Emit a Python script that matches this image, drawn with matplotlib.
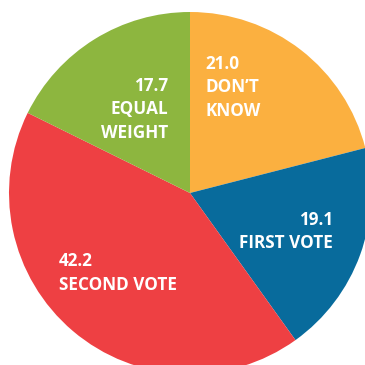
import matplotlib
matplotlib.use("Agg")
import matplotlib.pyplot as plt

# slices, clockwise from 12 o'clock
labels = ["DON\u2019T\nKNOW", "FIRST VOTE", "SECOND VOTE", "EQUAL\nWEIGHT"]
values = [21.0, 19.1, 42.2, 17.7]
colors = ["#FBB040", "#086B9C", "#EE4043", "#8DB63F"]

# label anchor (in units of pie radius) and alignment
label_pos = [(0.083, 0.765), (0.790, -0.097), (-0.724, -0.324), (-0.122, 0.643)]
label_ha = ["left", "right", "left", "right"]

plt.rcParams["font.family"] = ["Open Sans", "DejaVu Sans"]

fig = plt.figure(figsize=(3.65, 3.65), dpi=100)
ax = fig.add_axes([0, 0, 1, 1])

# pie centre sits at pixel (190, 193), radius ~181 px
r_px = 181.0

ax.pie(values, colors=colors, startangle=90, counterclock=False,
       radius=1.0, center=(0, 0), frame=True,
       wedgeprops=dict(linewidth=0))

for i in range(len(values)):
    txt = "{:.1f}\n{}".format(values[i], labels[i])
    ax.text(label_pos[i][0], label_pos[i][1], txt, color="white",
            fontsize=12.3, fontweight="bold", ha=label_ha[i], va="top",
            multialignment=label_ha[i], linespacing=1.42)

ax.set_aspect("equal")
ax.set_xlim(-190 / r_px, (365 - 190) / r_px)
ax.set_ylim(-(365 - 193) / r_px, 193 / r_px)
ax.axis("off")
fig.savefig("out.png", dpi=100)
